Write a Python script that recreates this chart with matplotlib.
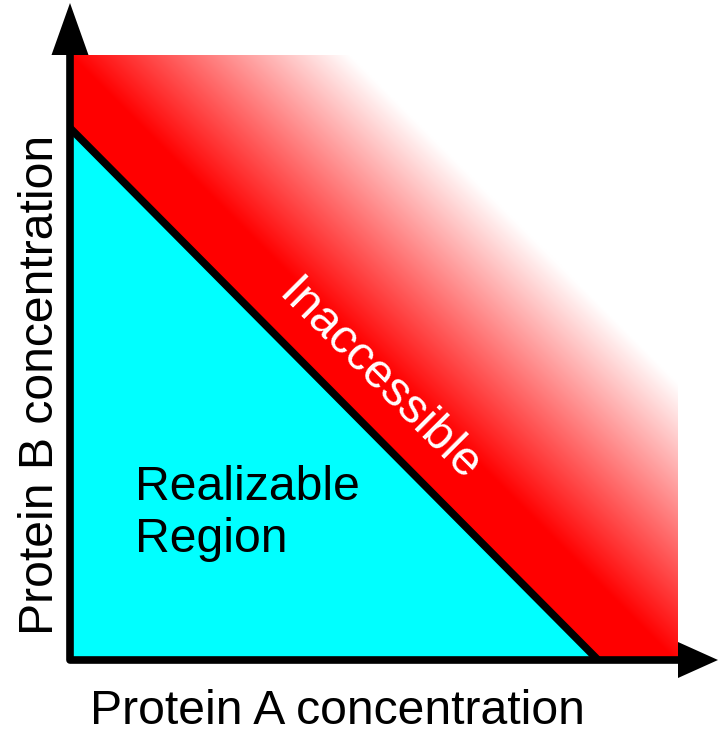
import numpy as np
import matplotlib
matplotlib.use('Agg')
from matplotlib import pyplot as plt
from matplotlib.patches import Polygon

plt.rcParams['font.family'] = ['Liberation Sans', 'DejaVu Sans']

# concentrations in arbitrary units, origin at the axes corner
a_max = 5.28          # realizable limit on the A axis
b_max = 5.32          # realizable limit on the B axis
red_extent = [6.08, 6.05]     # size of the inaccessible box (A, B)
fade_start = 6.05     # A+B where the red begins to fade
fade_end = 8.85       # A+B where it is white
axis_len = [6.48, 6.57]       # arrow tips (A, B)

label_x = 'Protein A concentration'
label_y = 'Protein B concentration'
text_ok = 'Realizable\nRegion'
text_bad = 'Inaccessible'

fig = plt.figure(figsize=(7.18, 7.30), dpi=100)
ax = fig.add_axes([0, 0, 1, 1])
ax.set_xlim(-0.70, 6.48)
ax.set_ylim(-0.70, 6.60)
ax.axis('off')

# red gradient box, fading out perpendicular to the diagonal
aa, bb = np.meshgrid(np.linspace(0, red_extent[0], 400), np.linspace(0, red_extent[1], 400))
t = np.clip((aa + bb - fade_start) / (fade_end - fade_start), 0, 1)
img = np.ones(aa.shape + (3,))
img[..., 1] = t
img[..., 2] = t
ax.imshow(img, origin='lower', extent=[0, red_extent[0], 0, red_extent[1]],
          interpolation='bilinear', zorder=1, aspect='auto')

# realizable triangle
ax.add_patch(Polygon([[0, 0], [a_max, 0], [0, b_max]], closed=True,
                     facecolor='#00ffff', edgecolor='none', zorder=2))
ax.plot([0, a_max], [b_max, 0], color='black', lw=5.5, solid_capstyle='butt', zorder=3)

# axes with arrows
ax.plot([0, 0, red_extent[0]], [red_extent[1], 0, 0], color='black', lw=5.5,
        solid_joinstyle='round', solid_capstyle='butt', zorder=4)
ax.add_patch(Polygon([[-0.185, red_extent[1]], [0.185, red_extent[1]], [0, axis_len[1]]],
                     closed=True, facecolor='black', edgecolor='none', zorder=4))
ax.add_patch(Polygon([[red_extent[0], 0.18], [red_extent[0], -0.18], [axis_len[0], 0]],
                     closed=True, facecolor='black', edgecolor='none', zorder=4))

fs = 34.7
ax.text(2.67, -0.635, label_x, fontsize=fs, ha='center', va='baseline')
ax.text(-0.17, 2.75, label_y, fontsize=fs, ha='center', va='baseline',
        rotation=90, rotation_mode='anchor')
ax.text(0.65, 1.08, text_ok, fontsize=fs, ha='left', va='baseline', linespacing=1.2, zorder=5)
ax.text(3.0, 2.70, text_bad, fontsize=fs, color='white', ha='center', va='baseline',
        rotation=-45, rotation_mode='anchor', zorder=5)

plt.savefig('out.png', dpi=100)
